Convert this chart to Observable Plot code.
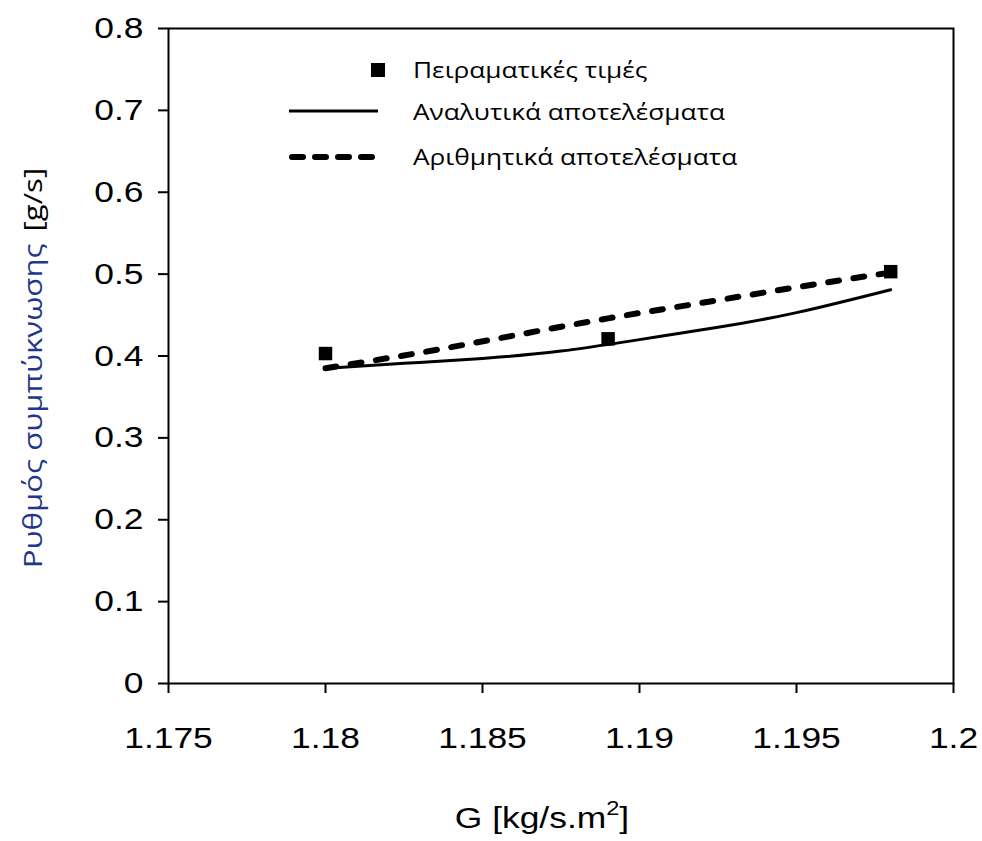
<!DOCTYPE html>
<html>
<head>
<meta charset="utf-8">
<script src="https://cdn.jsdelivr.net/npm/d3@7"></script>
<script src="https://cdn.jsdelivr.net/npm/@observablehq/plot@0.6"></script>
<style>
  html, body { margin: 0; padding: 0; background: #fff; }
  #chart { width: 982px; height: 841px; }
</style>
</head>
<body>
<div id="chart"></div>
<script>
// Mass flux G [kg/s.m²] and condensation rate [g/s]
const gExperimental = [1.18, 1.189, 1.198];
const rateExperimental = [0.403, 0.421, 0.503];

const gAnalytical = [1.18, 1.1825, 1.185, 1.1875, 1.19, 1.1925, 1.195, 1.198];
const rateAnalytical = [0.385, 0.391, 0.397, 0.406, 0.420, 0.435, 0.453, 0.481];

const gNumerical = [1.18, 1.183, 1.186, 1.189, 1.192, 1.195, 1.198];
const rateNumerical = [0.385, 0.404, 0.425, 0.446, 0.465, 0.484, 0.502];

const xTicks = [1.175, 1.18, 1.185, 1.19, 1.195, 1.2];
const yTicks = [0, 0.1, 0.2, 0.3, 0.4, 0.5, 0.6, 0.7, 0.8];

const legendLabels = ["Πειραματικές τιμές", "Αναλυτικά αποτελέσματα", "Αριθμητικά αποτελέσματα"];
const xLabel = "G [kg/s.m";
const xLabelSup = "2";
const yLabelName = "Ρυθμός συμπύκνωσης";
const yLabelUnit = "[g/s]";

const experimental = gExperimental.map((g, i) => ({g, rate: rateExperimental[i]}));
const analytical = gAnalytical.map((g, i) => ({g, rate: rateAnalytical[i]}));
const numerical = gNumerical.map((g, i) => ({g, rate: rateNumerical[i]}));

const fmt = d => String(+d.toFixed(3));
const numberFont = "'Liberation Sans', Arial, sans-serif";
const greekFont = "'Open Sans', 'Noto Sans', sans-serif";
const stretch = " scale(1.18,1)";

const chart = Plot.plot({
  width: 982,
  height: 841,
  marginLeft: 168,
  marginRight: 29,
  marginTop: 28,
  marginBottom: 158,
  style: {background: "#fff", fontFamily: numberFont, color: "#000"},
  x: {domain: [1.175, 1.2]},
  y: {domain: [0, 0.8]},
  marks: [
    Plot.frame({stroke: "#000", strokeWidth: 2}),
    Plot.axisX({ticks: xTicks, tickFormat: fmt, tickSize: 10, tickPadding: 33,
                fontSize: 30, strokeWidth: 2, label: null}),
    Plot.axisY({ticks: yTicks, tickFormat: fmt, tickSize: 10, tickPadding: 15,
                fontSize: 30, strokeWidth: 2, label: null}),
    Plot.line(analytical, {x: "g", y: "rate", curve: "natural",
                           stroke: "#000", strokeWidth: 3}),
    Plot.line(numerical, {x: "g", y: "rate", curve: "natural",
                          stroke: "#000", strokeWidth: 6,
                          strokeDasharray: "11,14.5", strokeLinecap: "round"}),
    Plot.dot(experimental, {x: "g", y: "rate", symbol: "square", r: 7.6,
                            fill: "#000", stroke: "none"})
  ]
});

document.getElementById("chart").appendChild(chart);

const svg = d3.select(chart);

// widen the Arial-style tick numerals
svg.selectAll("g[aria-label$='tick label'] text").each(function() {
  const t = this.getAttribute("transform") || "";
  this.setAttribute("transform", t + stretch);
});

// x-axis title
const xt = svg.append("text")
  .attr("transform", "translate(542,828)" + stretch)
  .attr("text-anchor", "middle")
  .attr("font-family", numberFont)
  .attr("font-size", 30)
  .attr("fill", "#000");
xt.append("tspan").text(xLabel);
xt.append("tspan").attr("font-size", 20).attr("dy", -13).text(xLabelSup);
xt.append("tspan").attr("dy", 13).text("]");

// y-axis title, read bottom to top
const yt = svg.append("text")
  .attr("transform", "translate(42,368) rotate(-90) scale(1.2,1)")
  .attr("text-anchor", "middle")
  .attr("font-family", greekFont)
  .attr("font-size", 26);
yt.append("tspan").attr("fill", "#23378a").text(yLabelName);
yt.append("tspan").attr("fill", "#000").attr("dx", 10).text(yLabelUnit);

// legend
const legend = svg.append("g")
  .attr("font-family", greekFont)
  .attr("font-size", 21)
  .attr("text-anchor", "start")
  .attr("fill", "#000");
legend.append("rect").attr("x", 371).attr("y", 63).attr("width", 14).attr("height", 14).attr("fill", "#000");
legend.append("line").attr("x1", 289).attr("x2", 378).attr("y1", 111).attr("y2", 111)
  .attr("stroke", "#000").attr("stroke-width", 3);
legend.append("line").attr("x1", 292).attr("x2", 378).attr("y1", 157).attr("y2", 157)
  .attr("stroke", "#000").attr("stroke-width", 6)
  .attr("stroke-dasharray", "11,12").attr("stroke-linecap", "round");
[78, 120, 165].forEach((y, i) => {
  legend.append("text")
    .attr("transform", `translate(413,${y}) scale(1.25,1)`)
    .text(legendLabels[i]);
});
</script>
</body>
</html>
